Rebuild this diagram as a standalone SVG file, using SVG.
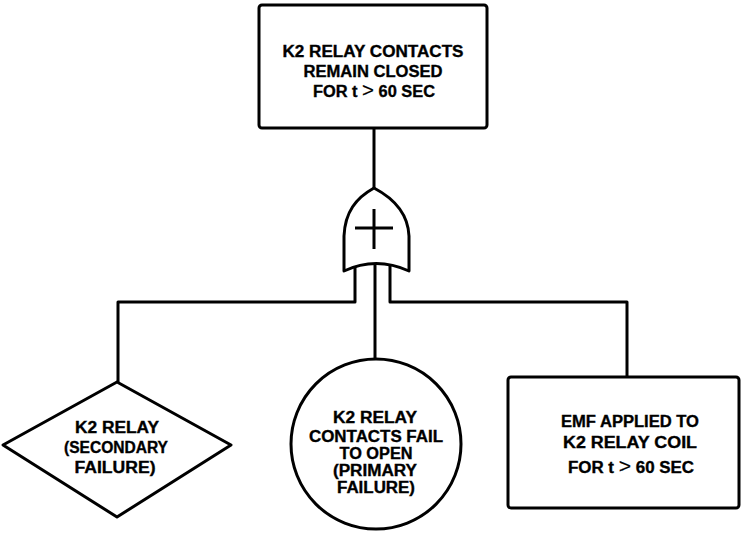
<svg xmlns="http://www.w3.org/2000/svg" width="745" height="533" viewBox="0 0 745 533">
<style>
.shape{fill:#fff;stroke:#000;stroke-width:3;stroke-linejoin:round}
.wire{fill:none;stroke:#000;stroke-width:3;stroke-linejoin:round}
.t{font-family:"Liberation Sans",Arial,sans-serif;font-weight:bold;font-size:16px;fill:#000;stroke:#000;stroke-width:0.35;text-anchor:middle}
.gt{font-weight:normal;font-size:20px;stroke-width:0.2}
</style>
<rect width="745" height="533" fill="#fff"/>
<g id="connectors">
<path class="wire" d="M374 128 V190"/>
<path class="wire" d="M355 258 V302 H118 V382"/>
<path class="wire" d="M375 258 V359"/>
<path class="wire" d="M390 258 V302 H627 V377"/>
</g>
<g id="top-event">
<rect class="shape" x="259" y="5" width="228" height="123" rx="3"/>
<text class="t" x="373" y="57" textLength="181" lengthAdjust="spacingAndGlyphs">K2 RELAY CONTACTS</text>
<text class="t" x="373" y="77" textLength="139" lengthAdjust="spacingAndGlyphs">REMAIN CLOSED</text>
<text class="t" x="374" y="97" textLength="122" lengthAdjust="spacingAndGlyphs">FOR t <tspan class="gt">&gt;</tspan> 60 SEC</text>
</g>
<g id="or-gate">
<path class="shape" d="M374 188 C356 198 345 212 344 236 L344 271 Q376 256 409 271 L409 236 C408 212 393 198 374 188 Z"/>
<path class="wire" d="M355 228 H393 M374 209 V249"/>
</g>
<g id="secondary-failure">
<polygon class="shape" points="117,382 231,445 117,517 3,445"/>
<text class="t" x="117" y="433" textLength="84" lengthAdjust="spacingAndGlyphs">K2 RELAY</text>
<text class="t" x="116" y="453" textLength="104" lengthAdjust="spacingAndGlyphs">(SECONDARY</text>
<text class="t" x="115" y="473" textLength="81" lengthAdjust="spacingAndGlyphs">FAILURE)</text>
</g>
<g id="primary-failure">
<circle class="shape" cx="376" cy="444" r="85"/>
<text class="t" x="375" y="423" textLength="84" lengthAdjust="spacingAndGlyphs">K2 RELAY</text>
<text class="t" x="376" y="442" textLength="134" lengthAdjust="spacingAndGlyphs">CONTACTS FAIL</text>
<text class="t" x="376" y="459" textLength="73" lengthAdjust="spacingAndGlyphs">TO OPEN</text>
<text class="t" x="375" y="476" textLength="84" lengthAdjust="spacingAndGlyphs">(PRIMARY</text>
<text class="t" x="376" y="493" textLength="78" lengthAdjust="spacingAndGlyphs">FAILURE)</text>
</g>
<g id="emf-applied">
<rect class="shape" x="508" y="377" width="231" height="131" rx="3"/>
<text class="t" x="630" y="427" textLength="138" lengthAdjust="spacingAndGlyphs">EMF APPLIED TO</text>
<text class="t" x="630" y="448" textLength="134" lengthAdjust="spacingAndGlyphs">K2 RELAY COIL</text>
<text class="t" x="631" y="473" textLength="126" lengthAdjust="spacingAndGlyphs">FOR t <tspan class="gt">&gt;</tspan> 60 SEC</text>
</g>
</svg>
